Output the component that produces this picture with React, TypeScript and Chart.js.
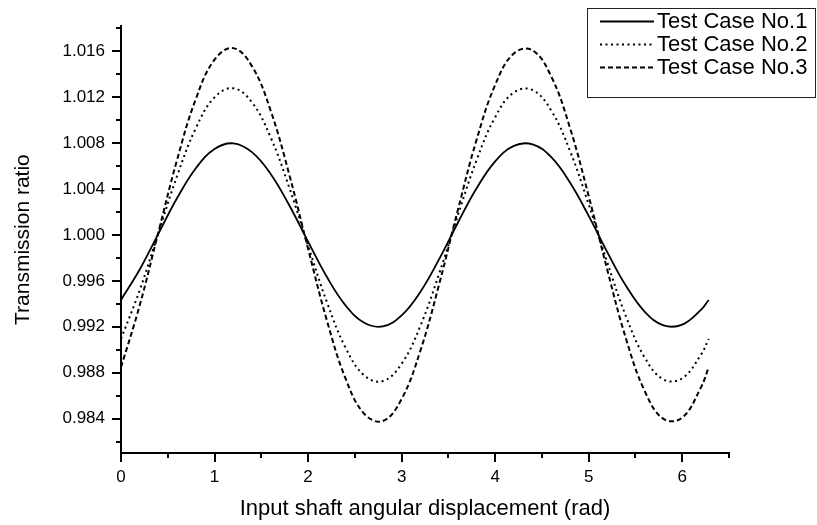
import React, { useEffect, useRef } from 'react';
import { Chart, registerables } from 'chart.js';

Chart.register(...registerables);

// ---- data ----
const xValues = [0, 0.2, 0.4, 0.6, 0.8, 1.0, 1.2, 1.4, 1.6, 1.8, 2.0, 2.2, 2.4, 2.6, 2.8, 3.0, 3.2, 3.4, 3.6, 3.8, 4.0, 4.2, 4.4, 4.6, 4.8, 5.0, 5.2, 5.4, 5.6, 5.8, 6.0, 6.2, 6.2832];

const case1 = [0.99434, 0.99699, 1.00012, 1.00322, 1.00582, 1.0075, 1.00799, 1.00722, 1.00532, 1.00257, 0.99942, 0.99636, 0.99387, 0.99235, 0.99204, 0.99299, 0.99504, 0.99788, 1.00105, 1.00405, 1.00642, 1.00777, 1.0079, 1.00678, 1.00458, 1.00167, 0.99849, 0.99555, 0.99331, 0.99213, 0.99219, 0.99348, 0.99434];

const case2 = [0.99095, 0.99519, 1.00019, 1.00516, 1.00931, 1.012, 1.01279, 1.01156, 1.00851, 1.00411, 0.99907, 0.99417, 0.99019, 0.98776, 0.98727, 0.98878, 0.99207, 0.9966, 1.00168, 1.00649, 1.01027, 1.01243, 1.01263, 1.01084, 1.00733, 1.00267, 0.99758, 0.99288, 0.9893, 0.98741, 0.98751, 0.98957, 0.99095];

const case3 = [0.98847, 0.99387, 1.00024, 1.00657, 1.01186, 1.01528, 1.01629, 1.01472, 1.01084, 1.00524, 0.99881, 0.99258, 0.98751, 0.98442, 0.98379, 0.98571, 0.9899, 0.99567, 1.00214, 1.00826, 1.01308, 1.01583, 1.01609, 1.01381, 1.00934, 1.0034, 0.99692, 0.99093, 0.98638, 0.98397, 0.98409, 0.98672, 0.98847];

const seriesLabels = ['Test Case No.1', 'Test Case No.2', 'Test Case No.3'];

const xMajorTicks = [0, 1, 2, 3, 4, 5, 6];
const xMinorTicks = [0.5, 1.5, 2.5, 3.5, 4.5, 5.5, 6.5];
const yMajorTicks = [0.984, 0.988, 0.992, 0.996, 1.0, 1.004, 1.008, 1.012, 1.016];
const yMinorTicks = [0.982, 0.986, 0.99, 0.994, 0.998, 1.002, 1.006, 1.01, 1.014, 1.018];

const xTitle = 'Input shaft angular displacement (rad)';
const yTitle = 'Transmission ratio';

const FAMILY = '"Liberation Sans", Arial, Helvetica, sans-serif';

const axisTicksPlugin = {
  id: 'axisTicks',
  afterDraw(chart: any) {
    const { ctx, chartArea, scales } = chart;
    const xs = scales.x;
    const ys = scales.y;
    ctx.save();
    ctx.strokeStyle = '#000';
    ctx.lineWidth = 2;
    const left = chartArea.left;
    const bottom = chartArea.bottom;
    const drawY = (v: number, len: number) => {
      const p = Math.round(ys.getPixelForValue(v));
      ctx.beginPath();
      ctx.moveTo(left, p);
      ctx.lineTo(left - len, p);
      ctx.stroke();
    };
    const drawX = (v: number, len: number) => {
      const p = Math.round(xs.getPixelForValue(v));
      ctx.beginPath();
      ctx.moveTo(p, bottom);
      ctx.lineTo(p, bottom + len);
      ctx.stroke();
    };
    yMajorTicks.forEach((v) => drawY(v, 9));
    yMinorTicks.forEach((v) => drawY(v, 5));
    xMajorTicks.forEach((v) => drawX(v, 9));
    xMinorTicks.forEach((v) => drawX(v, 5));
    ctx.restore();
  },
};

const legendPlugin = {
  id: 'boxLegend',
  afterDraw(chart: any) {
    const { ctx } = chart;
    const boxX = 587;
    const boxY = 8;
    const boxW = 228;
    const boxH = 89;
    ctx.save();
    ctx.strokeStyle = '#222';
    ctx.lineWidth = 1;
    ctx.strokeRect(boxX + 0.5, boxY + 0.5, boxW, boxH);
    ctx.font = `22px ${FAMILY}`;
    ctx.fillStyle = '#000';
    ctx.textBaseline = 'middle';
    ctx.textAlign = 'left';
    chart.data.datasets.forEach((ds: any, i: number) => {
      const cy = 21 + i * 22.8;
      ctx.save();
      ctx.strokeStyle = '#000';
      ctx.lineWidth = ds.borderWidth;
      ctx.setLineDash(ds.borderDash || []);
      ctx.beginPath();
      ctx.moveTo(600, Math.round(cy) + 0.5);
      ctx.lineTo(654, Math.round(cy) + 0.5);
      ctx.stroke();
      ctx.restore();
      ctx.fillText(ds.label, 657, cy + 1);
    });
    ctx.restore();
  },
};

export default function App() {
  const ref = useRef<HTMLCanvasElement | null>(null);

  useEffect(() => {
    if (!ref.current) return;
    const mk = (ys: number[]) => xValues.map((x, i) => ({ x, y: ys[i] }));
    const common = {
      borderColor: '#000',
      pointRadius: 0,
      tension: 0.4,
      fill: false,
    };
    const chart = new Chart(ref.current, {
      type: 'line',
      data: {
        datasets: [
          { ...common, label: seriesLabels[0], data: mk(case1), borderWidth: 1.8, borderDash: [] },
          { ...common, label: seriesLabels[1], data: mk(case2), borderWidth: 2, borderDash: [2, 3.5] },
          { ...common, label: seriesLabels[2], data: mk(case3), borderWidth: 2, borderDash: [5, 3] },
        ],
      },
      options: {
        animation: false,
        responsive: false,
        devicePixelRatio: 1,
        layout: { padding: { left: 0, right: 88, top: 17, bottom: 0 } },
        plugins: {
          legend: { display: false },
          tooltip: { enabled: false },
        },
        scales: {
          x: {
            type: 'linear',
            min: 0,
            max: 6.5,
            afterBuildTicks: (s: any) => {
              s.ticks = xMajorTicks.map((v) => ({ value: v }));
            },
            afterFit: (s: any) => {
              s.height = 72;
            },
            ticks: {
              autoSkip: false,
              maxRotation: 0,
              padding: 14,
              color: '#000',
              font: { family: FAMILY, size: 17 },
              callback: (v: any) => String(v),
            },
            grid: { display: false, drawTicks: false },
            border: { display: true, color: '#000', width: 2 },
            title: {
              display: true,
              text: xTitle,
              color: '#000',
              font: { family: FAMILY, size: 22 },
              padding: { top: 0, bottom: 3 },
            },
          },
          y: {
            type: 'linear',
            min: 0.981,
            max: 1.0182,
            afterBuildTicks: (s: any) => {
              s.ticks = yMajorTicks.map((v) => ({ value: v }));
            },
            afterFit: (s: any) => {
              s.width = 121;
            },
            ticks: {
              autoSkip: false,
              padding: 16,
              color: '#000',
              font: { family: FAMILY, size: 17 },
              callback: (v: any) => Number(v).toFixed(3),
            },
            grid: { display: false, drawTicks: false },
            border: { display: true, color: '#000', width: 2 },
            title: {
              display: true,
              text: yTitle,
              color: '#000',
              font: { family: FAMILY, size: 21 },
              padding: { top: 11, bottom: 0 },
            },
          },
        },
      },
      plugins: [axisTicksPlugin, legendPlugin],
    } as any);
    return () => chart.destroy();
  }, []);

  return (
    <div style={{ position: 'absolute', left: 0, top: 0, width: 817, height: 525, background: '#fff' }}>
      <canvas ref={ref} width={817} height={525} />
    </div>
  );
}
